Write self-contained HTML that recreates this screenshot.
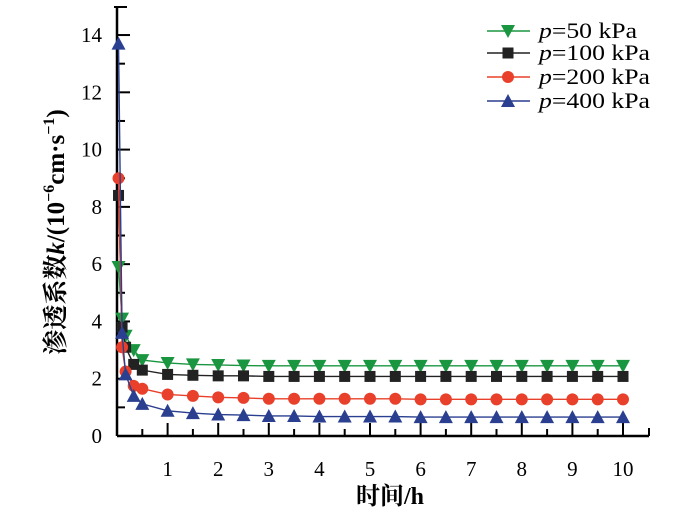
<!DOCTYPE html>
<html><head><meta charset="utf-8"><style>
html,body{margin:0;padding:0;background:#fff;}
svg text{font-family:"Liberation Serif","Noto Serif CJK SC",serif;}
</style></head><body>
<svg id="chart" width="700" height="515" viewBox="0 0 700 515" xmlns="http://www.w3.org/2000/svg"></svg>
<script>
const times = [0.03,0.1,0.17,0.33,0.5,1,1.5,2,2.5,3,3.5,4,4.5,5,5.5,6,6.5,7,7.5,8,8.5,9,9.5,10];
const k50  = [5.9,4.1,3.5,3.0,2.65,2.55,2.5,2.48,2.46,2.45,2.45,2.45,2.45,2.45,2.45,2.45,2.45,2.45,2.45,2.45,2.45,2.45,2.45,2.45];
const k100 = [8.4,3.8,3.1,2.5,2.3,2.15,2.12,2.1,2.1,2.08,2.08,2.08,2.08,2.08,2.08,2.08,2.08,2.08,2.08,2.08,2.08,2.08,2.08,2.08];
const k200 = [9.0,3.1,2.25,1.75,1.65,1.45,1.4,1.35,1.33,1.3,1.3,1.3,1.3,1.3,1.3,1.28,1.28,1.28,1.28,1.28,1.28,1.28,1.28,1.28];
const k400 = [13.7,3.6,2.15,1.4,1.12,0.88,0.8,0.75,0.73,0.7,0.7,0.68,0.68,0.68,0.68,0.66,0.66,0.66,0.66,0.66,0.66,0.66,0.66,0.66];
const xTicks = [1,2,3,4,5,6,7,8,9,10];
const yTicks = [0,2,4,6,8,10,12,14];
const seriesNames = ["p=50 kPa","p=100 kPa","p=200 kPa","p=400 kPa"];

const svg = document.getElementById('chart');
const NS = "http://www.w3.org/2000/svg";
const X0=117, Y0=436;
const sx = v => X0 + v*50.6;
const sy = v => Y0 - v*28.64;
function el(tag, attrs, parent){const e=document.createElementNS(NS,tag);for(const k in attrs)e.setAttribute(k,attrs[k]);(parent||svg).appendChild(e);return e;}

const axes = el('g',{});


const ya = el('line',{x1:X0,y1:7,x2:X0,y2:Y0,stroke:'#000','stroke-width':2.5},axes);


el('line',{x1:X0-3,y1:7,x2:X0+10,y2:7,stroke:'#000','stroke-width':2},axes);
const xa = el('line',{x1:X0,y1:Y0,x2:649,y2:Y0,stroke:'#000','stroke-width':2.5},axes);


el('line',{x1:649,y1:Y0,x2:649,y2:Y0-8,stroke:'#000','stroke-width':2},axes);
for(let v=1;v<=14;v++){
  const major = v%2===0;
  el('line',{x1:X0,y1:sy(v),x2:X0+(major?13:8),y2:sy(v),stroke:'#000','stroke-width':2},axes);
}
for(let v=0.5;v<=10;v+=0.5){
  const major = Number.isInteger(v);
  el('line',{x1:sx(v),y1:Y0,x2:sx(v),y2:Y0-(major?13:7),stroke:'#000','stroke-width':2},axes);
}
yTicks.forEach(v=>{
  const t=el('text',{x:102,y:sy(v)+7,'text-anchor':'end','font-size':21},axes);
  t.textContent=v;
  
  
});
xTicks.forEach(v=>{
  const t=el('text',{x:sx(v),y:476,'text-anchor':'middle','font-size':21},axes);
  t.textContent=v;
  
  
});
const xt=el('text',{x:390,y:504,'text-anchor':'middle','font-size':24,'font-weight':'bold'});
xt.textContent='时间/h';


const yt=el('text',{transform:'translate(64,232) rotate(-90)','text-anchor':'middle','font-size':25,'font-weight':'bold'});
yt.innerHTML='渗透系数<tspan font-style="italic">k</tspan>/(10<tspan font-size="16" dy="-10">−6</tspan><tspan dy="10">cm·s</tspan><tspan font-size="16" dy="-10">−1</tspan><tspan dy="10">)</tspan>';



function marker(type,x,y,color,parent){
  let m;
  if(type==='down') m=el('polygon',{points:`${x-7},${y-6} ${x+7},${y-6} ${x},${y+7}`,fill:color},parent);
  else if(type==='up') m=el('polygon',{points:`${x-7},${y+6} ${x+7},${y+6} ${x},${y-7}`,fill:color},parent);
  else if(type==='sq') m=el('rect',{x:x-5.5,y:y-5.5,width:11,height:11,fill:color},parent);
  else m=el('circle',{cx:x,cy:y,r:6,fill:color},parent);
  
  
}
const series=[[k50,'#1a9641','down'],[k100,'#222','sq'],[k200,'#e8402a','circ'],[k400,'#2a3f8f','up']];
series.forEach(([vals,color,type],i)=>{
  const g=el('g',{});
  
  
  const pts=times.map((t,j)=>sx(t)+','+sy(vals[j])).join(' ');
  el('polyline',{points:pts,fill:'none',stroke:color,'stroke-width':1.4},g);
  times.forEach((t,j)=>marker(type,sx(t),sy(vals[j]),color,g));
  const ly=[31,53,77,101][i];
  const lg=el('g',{});
  
  
  el('line',{x1:487,y1:ly,x2:530,y2:ly,stroke:color,'stroke-width':1.4},lg);
  marker(type,508,ly,color,lg);
  const tx=el('text',{x:539,y:ly+7,'font-size':22,textLength:i===0?98:111,lengthAdjust:'spacingAndGlyphs'},lg);
  tx.innerHTML='<tspan font-style="italic">p</tspan>'+seriesNames[i].slice(1);
});
</script>
</body></html>
